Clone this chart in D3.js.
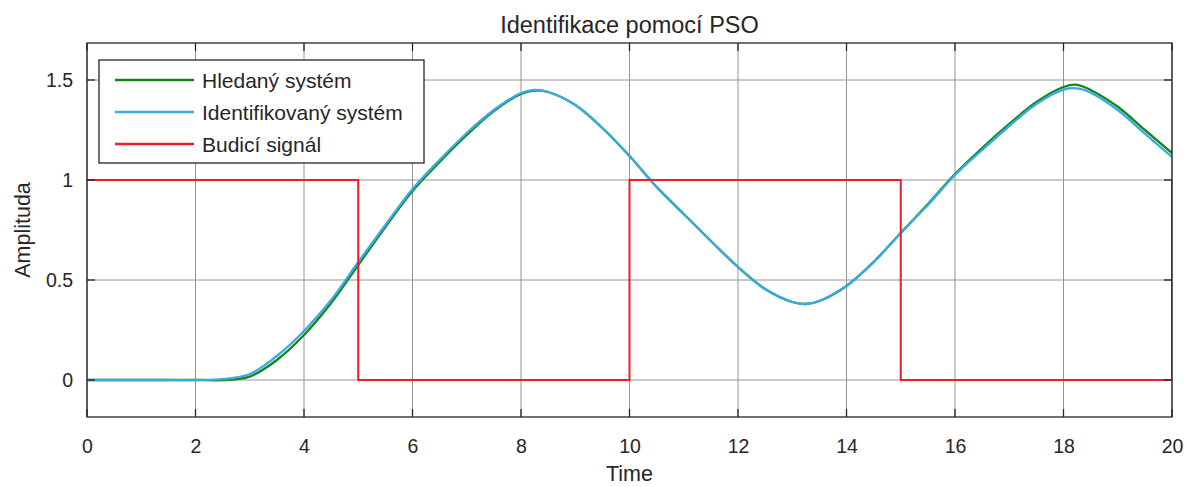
<!DOCTYPE html>
<html>
<head>
<meta charset="utf-8">
<script src="https://cdn.jsdelivr.net/npm/d3@7"></script>
<style>
  html, body { margin: 0; padding: 0; background: #fff; }
  svg { display: block; }
  text { font-family: "Liberation Sans", Arial, Helvetica, sans-serif; fill: #262626; }
</style>
</head>
<body>
<svg id="chart" width="1187" height="487"></svg>
<script>
// ---- data ----
const titleText = "Identifikace pomocí PSO";
const xLabel = "Time";
const yLabel = "Amplituda";
const seriesNames = ["Hledaný systém", "Identifikovaný systém", "Budicí signál"];

const time = [0, 0.5, 1, 1.5, 2, 2.5, 3, 3.5, 4, 4.5, 5, 5.5, 6, 6.5, 7, 7.5, 8, 8.25, 8.5, 9, 9.5,
              10, 10.5, 11, 11.5, 12, 12.5, 13, 13.25, 13.5, 14, 14.5, 15, 15.5, 16, 16.5, 17, 17.5,
              18, 18.25, 18.5, 19, 19.5, 20];
const hledany = [0, 0, 0, 0, 0, 0.0, 0.017, 0.10, 0.225, 0.385, 0.575, 0.765, 0.945, 1.09, 1.225, 1.345, 1.43, 1.447, 1.44, 1.375, 1.26,
                 1.12, 0.965, 0.83, 0.695, 0.565, 0.455, 0.39, 0.38, 0.395, 0.47, 0.59, 0.735, 0.88, 1.03, 1.16, 1.28, 1.39,
                 1.465, 1.476, 1.45, 1.366, 1.25, 1.135];
const identifikovany = [0, 0, 0, 0, 0, 0.004, 0.03, 0.12, 0.245, 0.40, 0.59, 0.775, 0.955, 1.10, 1.235, 1.35, 1.435, 1.45, 1.44, 1.375, 1.26,
                 1.12, 0.965, 0.83, 0.695, 0.565, 0.455, 0.39, 0.38, 0.395, 0.47, 0.59, 0.735, 0.875, 1.025, 1.15, 1.27, 1.38,
                 1.452, 1.458, 1.437, 1.35, 1.232, 1.115];
const signalTime = [0, 5, 5, 10, 10, 15, 15, 20, 20];
const signalValue = [1, 1, 0, 0, 1, 1, 0, 0, 1];

const xTicks = [0, 2, 4, 6, 8, 10, 12, 14, 16, 18, 20];
const yTicks = [0, 0.5, 1, 1.5];
const colors = ["#13861a", "#3aaae2", "#ee1c24"];

// ---- layout ----
const svg = d3.select("#chart");
const L = 87, R = 1172, T = 43, B = 417;
const x = d3.scaleLinear().domain([0, 20]).range([L, R]);
const y = d3.scaleLinear().domain([-0.185, 1.685]).range([B, T]);

// grid
const grid = svg.append("g");
grid.selectAll(".gx").data(xTicks).join("line")
  .attr("x1", d => x(d)).attr("x2", d => x(d)).attr("y1", T).attr("y2", B)
  .attr("stroke", "#949494").attr("stroke-width", 1);
grid.selectAll(".gy").data(yTicks).join("line")
  .attr("x1", L).attr("x2", R).attr("y1", d => y(d)).attr("y2", d => y(d))
  .attr("stroke", "#949494").attr("stroke-width", 1);

// clip
svg.append("clipPath").attr("id", "clip").append("rect")
  .attr("x", L).attr("y", T).attr("width", R - L).attr("height", B - T);

const plot = svg.append("g").attr("clip-path", "url(#clip)");
const line = d3.line().x(d => x(d[0])).y(d => y(d[1])).curve(d3.curveCatmullRom.alpha(0.5));
const lineStep = d3.line().x(d => x(d[0])).y(d => y(d[1]));

plot.append("path").datum(time.map((t, i) => [t, hledany[i]]))
  .attr("d", line).attr("fill", "none").attr("stroke", colors[0]).attr("stroke-width", 2.3);
plot.append("path").datum(time.map((t, i) => [t, identifikovany[i]]))
  .attr("d", line).attr("fill", "none").attr("stroke", colors[1]).attr("stroke-width", 2.3);
plot.append("path").datum(signalTime.map((t, i) => [t, signalValue[i]]))
  .attr("d", lineStep).attr("fill", "none").attr("stroke", colors[2]).attr("stroke-width", 2);

// box
svg.append("rect").attr("x", L).attr("y", T).attr("width", R - L).attr("height", B - T)
  .attr("fill", "none").attr("stroke", "#262626").attr("stroke-width", 1.3);

// inner ticks on all sides
const tk = 8;
const ticksG = svg.append("g").attr("stroke", "#262626").attr("stroke-width", 1.3);
xTicks.forEach(d => {
  ticksG.append("line").attr("x1", x(d)).attr("x2", x(d)).attr("y1", B).attr("y2", B - tk);
  ticksG.append("line").attr("x1", x(d)).attr("x2", x(d)).attr("y1", T).attr("y2", T + tk);
});
yTicks.forEach(d => {
  ticksG.append("line").attr("x1", L).attr("x2", L + tk).attr("y1", y(d)).attr("y2", y(d));
  ticksG.append("line").attr("x1", R).attr("x2", R - tk).attr("y1", y(d)).attr("y2", y(d));
});

// axes labels via d3 axis
const xAxis = svg.append("g").attr("transform", `translate(0,${B})`)
  .call(d3.axisBottom(x).tickValues(xTicks).tickSize(0).tickPadding(22).tickFormat(d3.format("d")));
xAxis.select(".domain").remove();
xAxis.selectAll("text").attr("font-size", "19.5px").attr("fill", "#262626")
  .style("font-family", "'Liberation Sans', Arial, sans-serif");

const yAxis = svg.append("g").attr("transform", `translate(${L},0)`)
  .call(d3.axisLeft(y).tickValues(yTicks).tickSize(0).tickPadding(14).tickFormat(d => String(d)));
yAxis.select(".domain").remove();
yAxis.selectAll("text").attr("font-size", "19.5px").attr("fill", "#262626")
  .style("font-family", "'Liberation Sans', Arial, sans-serif");

// title & labels
svg.append("text").attr("x", (L + R) / 2).attr("y", 33).attr("text-anchor", "middle")
  .attr("font-size", "23.5px").text(titleText);
svg.append("text").attr("x", (L + R) / 2).attr("y", 481).attr("text-anchor", "middle")
  .attr("font-size", "21.5px").text(xLabel);
svg.append("text").attr("transform", `translate(30,${(T + B) / 2}) rotate(-90)`)
  .attr("text-anchor", "middle").attr("font-size", "21.5px").text(yLabel);

// legend
const lg = svg.append("g");
lg.append("rect").attr("x", 99).attr("y", 60).attr("width", 325).attr("height", 103)
  .attr("fill", "#fff").attr("stroke", "#262626").attr("stroke-width", 1.3);
seriesNames.forEach((name, i) => {
  const cy = 80 + i * 32;
  lg.append("line").attr("x1", 115).attr("x2", 194).attr("y1", cy).attr("y2", cy)
    .attr("stroke", colors[i]).attr("stroke-width", 2.3);
  lg.append("text").attr("x", 202).attr("y", cy + 8).attr("font-size", "21px").text(name);
});
</script>
</body>
</html>
